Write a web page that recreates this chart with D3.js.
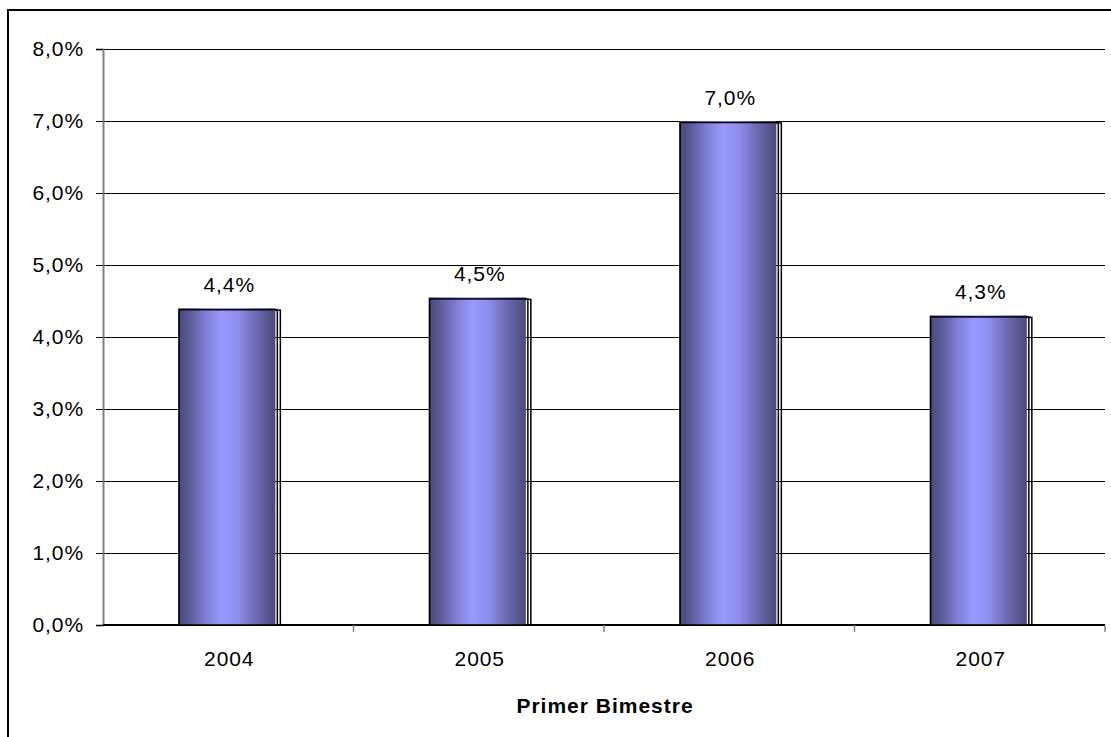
<!DOCTYPE html>
<html><head><meta charset="utf-8">
<script src="https://cdn.jsdelivr.net/npm/d3@7"></script>
<style>body{margin:0;background:#fff;}svg{display:block;}</style>
</head><body>
<svg id="c" width="1111" height="737"></svg>
<script>
const categories = ["2004","2005","2006","2007"];
const values = [4.4, 4.55, 7.0, 4.3];
const valueLabels = ["4,4%","4,5%","7,0%","4,3%"];
const yTicks = [0,1,2,3,4,5,6,7,8];
const xTitle = "Primer Bimestre";

const svg = d3.select("#c");
const W = 1111, H = 737;
const m = {left:103, top:49, right:1105, bottom:625};
const FF = "Liberation Sans, Arial, sans-serif";

svg.append("rect").attr("x",8).attr("y",10).attr("width",W+10).attr("height",H+10)
  .attr("fill","#fff").attr("stroke","#000").attr("stroke-width",2);

const defs = svg.append("defs");
const g = defs.append("linearGradient").attr("id","bg").attr("x1","0").attr("x2","1").attr("y1","0").attr("y2","0");
[["0%","#474778"],["12%","#5c5c99"],["30%","#8282da"],["45%","#9999ff"],["62%","#8d8deb"],["80%","#6b6bb3"],["100%","#4a4a7a"]]
  .forEach(([o,c])=>g.append("stop").attr("offset",o).attr("stop-color",c));

const x = d3.scaleBand().domain(categories).range([m.left,m.right]).paddingInner(0.6).paddingOuter(0.3);
const y = d3.scaleLinear().domain([0,8]).range([m.bottom,m.top]);

// gridlines
svg.append("g").selectAll("line").data(yTicks.slice(1)).join("line")
  .attr("x1",m.left).attr("x2",m.right).attr("y1",d=>y(d)).attr("y2",d=>y(d))
  .attr("stroke","#000").attr("stroke-width",1).attr("shape-rendering","crispEdges");

// y axis
const yAxis = d3.axisLeft(y).tickValues(yTicks).tickSize(7).tickPadding(12)
  .tickFormat(d=>d.toFixed(1).replace(".",",")+"%");
const ya = svg.append("g").attr("transform",`translate(${m.left},0)`).call(yAxis);
ya.select(".domain").attr("stroke","#808080").attr("stroke-width",2);
ya.selectAll(".tick line").attr("stroke","#000");
ya.selectAll("text").style("font-family",FF).style("font-size","21px").style("letter-spacing","0.9px").attr("fill","#000");

// x axis
const xb = d3.scaleLinear().domain([0,4]).range([m.left,m.right]);
const xa = svg.append("g");
xa.append("line").attr("x1",m.left).attr("x2",m.right).attr("y1",m.bottom).attr("y2",m.bottom)
  .attr("stroke","#000").attr("stroke-width",2);
xa.selectAll("line.t").data([1,2,3,4]).join("line").attr("class","t")
  .attr("x1",d=>xb(d)).attr("x2",d=>xb(d)).attr("y1",m.bottom).attr("y2",m.bottom+7)
  .attr("stroke","#808080").attr("stroke-width",1.5);
xa.selectAll("text").data(categories).join("text")
  .attr("x",d=>x(d)+x.bandwidth()/2+1).attr("y",666).attr("text-anchor","middle")
  .style("font-family",FF).style("font-size","21px").style("letter-spacing","0.9px").text(d=>d);

// bars
const bars = svg.append("g").selectAll("g").data(categories).join("g");
bars.append("rect").attr("x",(d)=>x(d)+2).attr("y",(d,i)=>y(values[i])+2)
  .attr("width",x.bandwidth()).attr("height",(d,i)=>m.bottom-y(values[i])-2)
  .attr("fill","none").attr("stroke","#000").attr("stroke-width",1.5);
bars.append("rect").attr("x",(d)=>x(d)).attr("y",(d,i)=>y(values[i]))
  .attr("width",x.bandwidth()-3).attr("height",(d,i)=>m.bottom-y(values[i]))
  .attr("fill","url(#bg)");
bars.append("rect").attr("x",(d)=>x(d)+1).attr("y",(d,i)=>y(values[i])+1.5)
  .attr("width",x.bandwidth()-2).attr("height",(d,i)=>m.bottom-y(values[i])-1.5)
  .attr("fill","none").attr("stroke","#000").attr("stroke-width",1.5);

// value labels
svg.append("g").selectAll("text").data(categories).join("text")
  .attr("x",d=>x(d)+x.bandwidth()/2+1).attr("y",(d,i)=>y(values[i])-16)
  .attr("text-anchor","middle").style("font-family",FF)
  .style("font-size","21px").style("letter-spacing","0.9px").text((d,i)=>valueLabels[i]);

svg.append("text").attr("x",(m.left+m.right)/2+1).attr("y",713).attr("text-anchor","middle")
  .style("font-family",FF).style("font-size","21px").style("font-weight","bold").style("letter-spacing","1px")
  .text(xTitle);
</script>
</body></html>
